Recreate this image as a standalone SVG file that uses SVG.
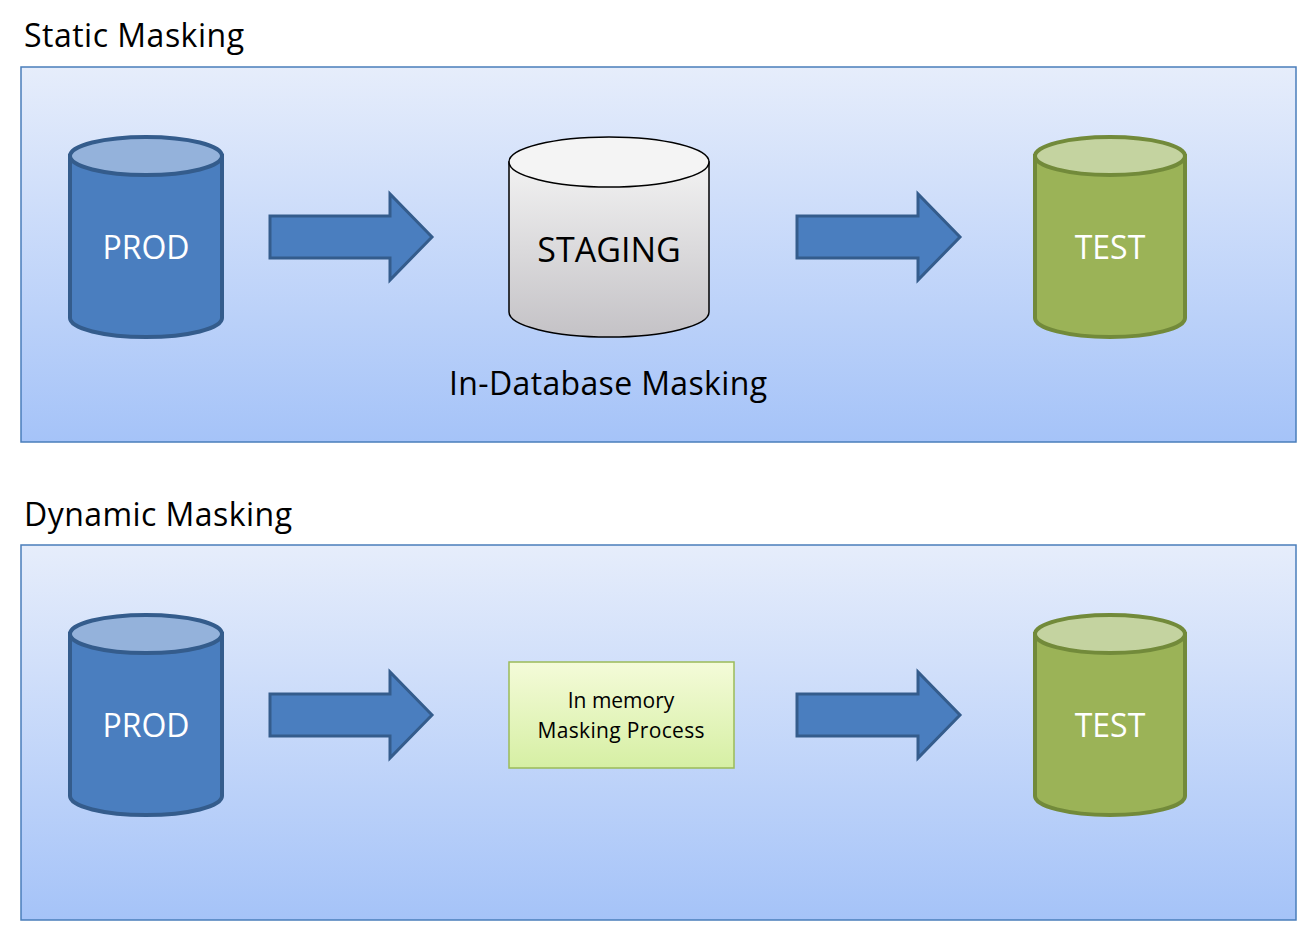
<svg xmlns="http://www.w3.org/2000/svg" width="1304" height="931" viewBox="0 0 1304 931">
<defs>
<linearGradient id="bg" x1="0" y1="0" x2="0" y2="1"><stop offset="0" stop-color="#e6edfb"/><stop offset="1" stop-color="#a5c3f8"/></linearGradient>
<linearGradient id="gray" x1="0" y1="0" x2="0" y2="1"><stop offset="0" stop-color="#f2f2f2"/><stop offset="1" stop-color="#c4c2c6"/></linearGradient>
<linearGradient id="lg" x1="0" y1="0" x2="0" y2="1"><stop offset="0" stop-color="#f4fbd9"/><stop offset="1" stop-color="#d6efa4"/></linearGradient>
<style>
.panel{fill:url(#bg);stroke:#4a7ebb;stroke-width:1.5}
.title{font-family:"Open Sans","Liberation Sans",sans-serif;font-size:32px;fill:#000}
.lbl{font-family:"Open Sans","Liberation Sans",sans-serif;font-size:32px;text-anchor:middle}
.blue{fill:#4a7ebf;stroke:#345c8c;stroke-width:4}
.bluetop{fill:#94b2db;stroke:#345c8c;stroke-width:4}
.green{fill:#9bb357;stroke:#728a3a;stroke-width:4}
.greentop{fill:#c4d3a0;stroke:#728a3a;stroke-width:4}
.gr{fill:url(#gray);stroke:#000;stroke-width:1.5}
.grtop{fill:#f4f4f4;stroke:#000;stroke-width:1.5}
.arrow{fill:#4a7ebf;stroke:#345c8c;stroke-width:3}
</style>
</defs>
<text class="title" x="24" y="47" textLength="220">Static Masking</text>
<rect class="panel" x="21" y="67" width="1275" height="375"/>
<text class="title" x="24" y="526" textLength="268">Dynamic Masking</text>
<rect class="panel" x="21" y="545" width="1275" height="375"/>

<g id="prod1"><path class="blue" d="M70,156 V318 A76,19 0 0 0 222,318 V156 Z"/><ellipse class="bluetop" cx="146" cy="156" rx="76" ry="19"/><text class="lbl" x="146" y="259" fill="#fff">PROD</text></g>
<g id="staging"><path class="gr" d="M509,162 V312 A100,25 0 0 0 709,312 V162 Z"/><ellipse class="grtop" cx="609" cy="162" rx="100" ry="25"/><text class="lbl" x="609" y="262" fill="#000" style="font-size:34px">STAGING</text><text class="lbl" x="608" y="395" fill="#000" textLength="318">In-Database Masking</text></g>
<g id="test1"><path class="green" d="M1035,156 V318 A75,19 0 0 0 1185,318 V156 Z"/><ellipse class="greentop" cx="1110" cy="156" rx="75" ry="19"/><text class="lbl" x="1110" y="259" fill="#fff">TEST</text></g>

<g id="prod2"><path class="blue" d="M70,634 V796 A76,19 0 0 0 222,796 V634 Z"/><ellipse class="bluetop" cx="146" cy="634" rx="76" ry="19"/><text class="lbl" x="146" y="737" fill="#fff">PROD</text></g>
<g id="inmem"><rect x="509" y="662" width="225" height="106" fill="url(#lg)" stroke="#9bbb59" stroke-width="1.5"/><text class="lbl" style="font-size:21px" x="621" y="708" fill="#000">In memory</text><text class="lbl" style="font-size:21px" x="621" y="738" fill="#000" textLength="167">Masking Process</text></g>
<g id="test2"><path class="green" d="M1035,634 V796 A75,19 0 0 0 1185,796 V634 Z"/><ellipse class="greentop" cx="1110" cy="634" rx="75" ry="19"/><text class="lbl" x="1110" y="737" fill="#fff">TEST</text></g>

<g id="connectors">
<path class="arrow" d="M270,216 H390 V194 L432,237 L390,280 V258 H270 Z"/>
<path class="arrow" d="M797,216 H918 V194 L960,237 L918,280 V258 H797 Z"/>
<path class="arrow" d="M270,694 H390 V672 L432,715 L390,758 V736 H270 Z"/>
<path class="arrow" d="M797,694 H918 V672 L960,715 L918,758 V736 H797 Z"/>
</g>
</svg>
